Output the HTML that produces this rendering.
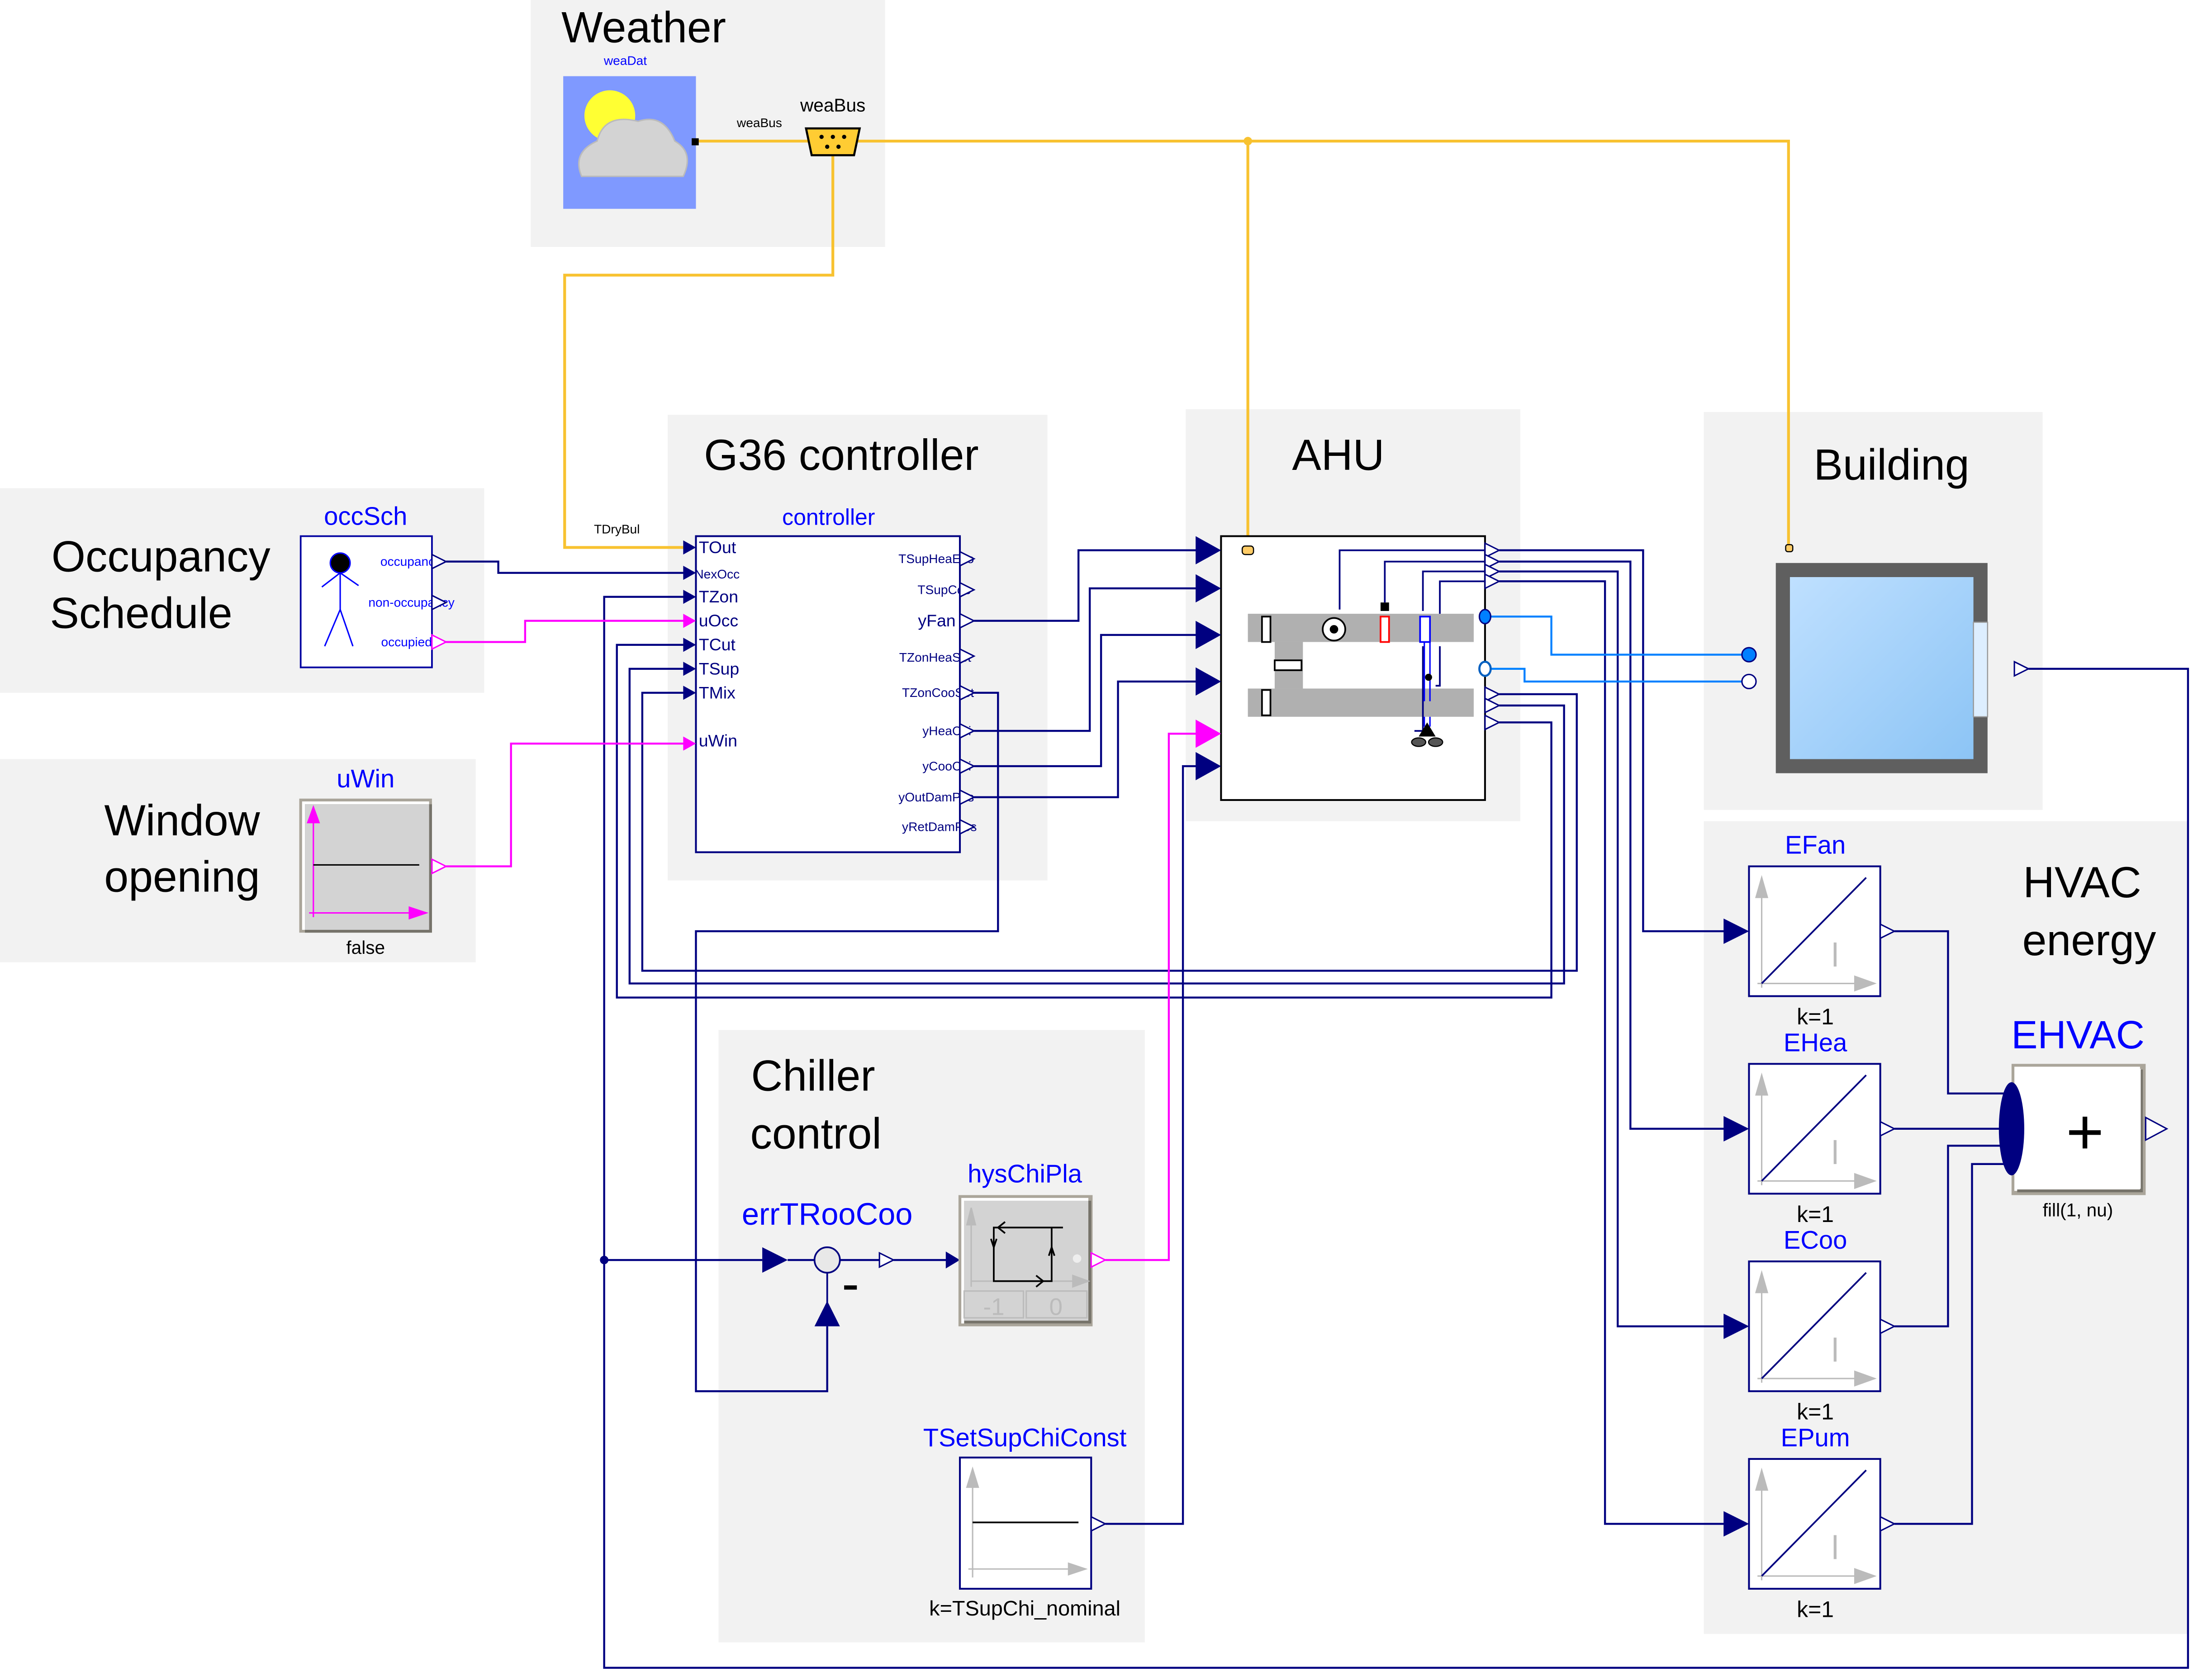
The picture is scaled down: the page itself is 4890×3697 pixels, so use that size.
<!DOCTYPE html>
<html><head><meta charset="utf-8"><style>
html,body{margin:0;padding:0;background:#fff;}
svg{display:block;}
text{font-family:"Liberation Sans",sans-serif;}
</style></head><body>
<svg width="4890" height="3697" viewBox="0 0 1567 1185" preserveAspectRatio="none" xmlns="http://www.w3.org/2000/svg">
<defs>
<linearGradient id="bg" x1="0" y1="0" x2="1" y2="1"><stop offset="0" stop-color="#bfe0ff"/><stop offset="1" stop-color="#8cc4f5"/></linearGradient>
</defs>
<!-- panels -->
<g fill="#f2f2f2">
<rect x="376" y="0" width="251" height="175"/>
<rect x="0" y="346" width="343" height="145"/>
<rect x="0" y="538" width="337" height="144"/>
<rect x="473" y="294" width="269" height="330"/>
<rect x="840" y="290" width="237" height="292"/>
<rect x="1207" y="292" width="240" height="282"/>
<rect x="1207" y="582" width="343" height="576"/>
<rect x="509" y="730" width="302" height="434"/>
</g>
<!-- titles -->
<g font-size="31" fill="#000">
<text x="456" y="30" text-anchor="middle">Weather</text>
<text x="596" y="333" text-anchor="middle">G36 controller</text>
<text x="948" y="333" text-anchor="middle">AHU</text>
<text x="1340" y="340" text-anchor="middle">Building</text>
<text x="114" y="405" text-anchor="middle">Occupancy</text>
<text x="100" y="445" text-anchor="middle">Schedule</text>
<text x="129" y="592" text-anchor="middle">Window</text>
<text x="129" y="632" text-anchor="middle">opening</text>
<text x="576" y="773" text-anchor="middle">Chiller</text>
<text x="578" y="814" text-anchor="middle">control</text>
<text x="1475" y="636" text-anchor="middle">HVAC</text>
<text x="1480" y="677" text-anchor="middle">energy</text>
</g>
<!-- yellow weather bus -->
<g fill="none" stroke="#f8c230" stroke-width="2">
<polyline points="493,100 1267,100 1267,388"/>
<polyline points="884,100 884,388"/>
<polyline points="590,105 590,195 400,195 400,388 490,388"/>
</g>
<circle cx="884" cy="100" r="3" fill="#f8c230"/>
<!-- weather icon -->
<rect x="399" y="54" width="94" height="94" fill="#7f99ff"/>
<circle cx="432" cy="82" r="18" fill="#ffff33"/>
<path d="M412,125 Q405,108 423,100 Q428,80 452,86 Q470,80 478,100 Q492,108 484,125 Z" fill="#d3d3d3" stroke="#bbb"/>
<rect x="490" y="98" width="5" height="5" fill="#000"/>
<text x="443" y="46" font-size="9" fill="#0000ff" text-anchor="middle">weaDat</text>
<text x="538" y="90" font-size="9" text-anchor="middle">weaBus</text>
<text x="590" y="79" font-size="13" text-anchor="middle">weaBus</text>
<path d="M571,91 L609,91 L605,110 L575,110 Z" fill="#ffcc33" stroke="#000" stroke-width="1.5"/>
<g fill="#000"><circle cx="582" cy="97" r="1.5"/><circle cx="590" cy="97" r="1.5"/><circle cx="598" cy="97" r="1.5"/><circle cx="586" cy="104" r="1.5"/><circle cx="594" cy="104" r="1.5"/></g>
<text x="437" y="378" font-size="9" text-anchor="middle">TDryBul</text>

<!-- navy connections -->
<g fill="none" stroke="#000080" stroke-width="1.4">
<polyline points="316,398 353,398 353,406 486,406"/>
<polyline points="1437,474 1550,474 1550,1182 428,1182 428,423 486,423"/>
<polyline points="428,893 540,893"/>
<polyline points="486,457 437,457 437,707 1099,707 1099,512 1062,512"/>
<polyline points="486,474 446,474 446,697 1108,697 1108,500 1062,500"/>
<polyline points="486,491 455,491 455,688 1117,688 1117,492 1062,492"/>
<polyline points="690,440 764,440 764,390 848,390"/>
<polyline points="690,518 772,518 772,417 848,417"/>
<polyline points="690,543 780,543 780,450 848,450"/>
<polyline points="690,565 792,565 792,483 848,483"/>
<polyline points="690,491 707,491 707,660 493,660 493,986 586,986 586,940"/>
<polyline points="783,1080 838,1080 838,543 848,543"/>
<polyline points="1062,390 1164,390 1164,660 1222,660"/>
<polyline points="1062,398 1155,398 1155,800 1222,800"/>
<polyline points="1062,405 1146,405 1146,940 1222,940"/>
<polyline points="1062,412 1137,412 1137,1080 1222,1080"/>
<polyline points="1342,660 1380,660 1380,775 1425,775"/>
<polyline points="1342,800 1425,800"/>
<polyline points="1342,940 1380,940 1380,812 1425,812"/>
<polyline points="1342,1080 1397,1080 1397,825 1425,825"/>
<polyline points="595,893 623,893"/>
<polyline points="633,893 672,893"/>
</g>
<circle cx="428" cy="893" r="3" fill="#000080"/>
<!-- magenta -->
<g fill="none" stroke="#ff00ff" stroke-width="1.4">
<polyline points="316,455 372,455 372,440 486,440"/>
<polyline points="316,614 362,614 362,527 486,527"/>
<polyline points="783,893 828,893 828,520 848,520"/>
</g>
<!-- fluid -->
<g fill="none" stroke="#0080ff" stroke-width="1.4">
<polyline points="1056,437 1099,437 1099,464 1234,464"/>
<polyline points="1056,474 1080,474 1080,483 1234,483"/>
</g>
<circle cx="1239" cy="464" r="5" fill="#0080ff" stroke="#000080"/>
<circle cx="1239" cy="483" r="5" fill="#fff" stroke="#000080"/>

<!-- occSch -->
<text x="259" y="372" font-size="18" fill="#0000ff" text-anchor="middle">occSch</text>
<rect x="213" y="380" width="93" height="93" fill="#fff" stroke="#0000a0" stroke-width="1.2"/>
<circle cx="241" cy="399" r="7" fill="#000" stroke="#0000ff"/>
<g stroke="#0000ff" fill="none"><line x1="241" y1="406" x2="241" y2="432"/><line x1="228" y1="416" x2="241" y2="406"/><line x1="241" y1="406" x2="254" y2="415"/><polyline points="230,458 241,432 250,458"/></g>
<g font-size="9" fill="#0000ff" text-anchor="end"><text x="308" y="401">occupanc</text><text x="322" y="430">non-occupancy</text><text x="306" y="458">occupied</text></g>
<g fill="#fff" stroke="#000080"><path d="M306,393 L316,398 L306,403 Z"/><path d="M306,422 L316,427 L306,432 Z"/></g>
<path d="M306,450 L316,455 L306,460 Z" fill="#fff" stroke="#ff00ff"/>

<!-- uWin -->
<text x="259" y="558" font-size="18" fill="#0000ff" text-anchor="middle">uWin</text>
<rect x="212" y="566" width="94" height="95" fill="#aaa59a"/>
<rect x="214" y="568" width="90" height="91" fill="#fff"/>
<rect x="216" y="570" width="90" height="91" fill="#76736a"/>
<rect x="216" y="570" width="88" height="89" fill="#d3d3d3"/>
<g stroke="#ff00ff" fill="#ff00ff"><line x1="222" y1="650" x2="222" y2="580"/><path d="M218,583 L222,572 L226,583Z"/><line x1="219" y1="647" x2="294" y2="647"/><path d="M290,643 L302,647 L290,651Z"/></g>
<line x1="222" y1="613" x2="297" y2="613" stroke="#000" stroke-width="1"/>
<path d="M306,609 L316,614 L306,619 Z" fill="#fff" stroke="#ff00ff"/>
<text x="259" y="676" font-size="13" text-anchor="middle">false</text>

<!-- controller -->
<text x="587" y="372" font-size="16" fill="#0000ff" text-anchor="middle">controller</text>
<rect x="493" y="380" width="187" height="224" fill="#fff" stroke="#000080" stroke-width="1.3"/>
<g fill="#000080"><path d="M484,383 L493,388 L484,393Z"/><path d="M484,401 L493,406 L484,411Z"/><path d="M484,418 L493,423 L484,428Z"/><path d="M484,452 L493,457 L484,462Z"/><path d="M484,469 L493,474 L484,479Z"/><path d="M484,486 L493,491 L484,496Z"/></g>
<g fill="#ff00ff"><path d="M484,435 L493,440 L484,445Z"/><path d="M484,522 L493,527 L484,532Z"/></g>
<g font-size="12" fill="#000080"><text x="495" y="392">TOut</text><text x="495" y="427">TZon</text><text x="495" y="444">uOcc</text><text x="495" y="461">TCut</text><text x="495" y="478">TSup</text><text x="495" y="495">TMix</text><text x="495" y="529">uWin</text><text x="492" y="410" font-size="9">NexOcc</text></g>
<g font-size="9" fill="#000080" text-anchor="end"><text x="690" y="399">TSupHeaEco</text><text x="688" y="421">TSupCoo</text><text x="688" y="469">TZonHeaSet</text><text x="690" y="494">TZonCooSet</text><text x="688" y="521">yHeaCoi</text><text x="688" y="546">yCooCoi</text><text x="690" y="568">yOutDamPos</text><text x="692" y="589">yRetDamPos</text><text x="677" y="444" font-size="12">yFan</text></g>
<g fill="#fff" stroke="#000080"><path d="M680,391 L690,396 L680,401Z"/><path d="M680,413 L690,418 L680,423Z"/><path d="M680,435 L690,440 L680,445Z"/><path d="M680,460 L690,465 L680,470Z"/><path d="M680,486 L690,491 L680,496Z"/><path d="M680,513 L690,518 L680,523Z"/><path d="M680,538 L690,543 L680,548Z"/><path d="M680,560 L690,565 L680,570Z"/><path d="M680,581 L690,586 L680,591Z"/></g>

<!-- AHU -->
<rect x="865" y="380" width="187" height="187" fill="#fff" stroke="#000" stroke-width="1.3"/>
<g fill="#000080"><path d="M847,380 L865,390 L847,400Z"/><path d="M847,407 L865,417 L847,427Z"/><path d="M847,440 L865,450 L847,460Z"/><path d="M847,473 L865,483 L847,493Z"/><path d="M847,533 L865,543 L847,553Z"/></g>
<path d="M847,510 L865,520 L847,530Z" fill="#ff00ff"/>
<rect x="880" y="387" width="8" height="6" rx="2" fill="#ffcc66" stroke="#000" stroke-width="0.8"/>
<g fill="#b0b0b0"><rect x="884" y="435" width="160" height="20"/><rect x="884" y="488" width="160" height="20"/><rect x="903" y="455" width="20" height="33"/></g>
<g fill="#fff" stroke="#000" stroke-width="1.2"><rect x="894" y="437" width="6" height="18"/><rect x="894" y="489" width="6" height="18"/><rect x="903" y="468" width="19" height="7"/></g>
<rect x="978" y="437" width="6" height="18" fill="#fff" stroke="#ff0000" stroke-width="1.2"/>
<rect x="1006" y="437" width="7" height="18" fill="#fff" stroke="#0000ff" stroke-width="1.2"/>
<circle cx="945" cy="446" r="8" fill="#fff" stroke="#000" stroke-width="1.2"/><circle cx="945" cy="446" r="3" fill="#000"/>
<rect x="978" y="427" width="6" height="6" fill="#000"/>
<g fill="none" stroke="#000080" stroke-width="1.2">
<polyline points="1052,390 949,390 949,432"/><polyline points="1052,398 981,398 981,427"/><polyline points="1052,405 1008,405 1008,433"/><polyline points="1052,412 1020,412 1020,435"/>
<polyline points="1008,458 1008,518 1002,518"/><polyline points="1020,458 1020,486 1017,486"/>
</g>
<g stroke="#0000ff"><line x1="1009" y1="455" x2="1009" y2="497"/><line x1="1013" y1="455" x2="1013" y2="497"/><line x1="1009" y1="508" x2="1009" y2="515"/><line x1="1013" y1="508" x2="1013" y2="515"/></g>
<circle cx="1012" cy="480" r="2.5" fill="#000"/>
<path d="M1005,522 L1011,512 L1017,522 Z" fill="#000"/>
<g fill="#555" stroke="#000" stroke-width="0.8"><ellipse cx="1005" cy="526" rx="5" ry="3"/><ellipse cx="1017" cy="526" rx="5" ry="3"/></g>
<g fill="#fff" stroke="#000080"><path d="M1052,385 L1062,390 L1052,395Z"/><path d="M1052,393 L1062,398 L1052,403Z"/><path d="M1052,400 L1062,405 L1052,410Z"/><path d="M1052,407 L1062,412 L1052,417Z"/><path d="M1052,487 L1062,492 L1052,497Z"/><path d="M1052,495 L1062,500 L1052,505Z"/><path d="M1052,507 L1062,512 L1052,517Z"/></g>
<ellipse cx="1052" cy="437" rx="4" ry="5" fill="#0080ff" stroke="#000080"/>
<ellipse cx="1052" cy="474" rx="4" ry="5" fill="#fff" stroke="#0060c0" stroke-width="1.5"/>

<!-- Building -->
<rect x="1265" y="386" width="5" height="5" rx="1.5" fill="#ffcc66" stroke="#000" stroke-width="0.8"/>
<rect x="1258" y="399" width="150" height="149" fill="#5f5f5f"/>
<rect x="1268" y="409" width="130" height="129" fill="url(#bg)"/>
<rect x="1398" y="441" width="10" height="67" fill="#ddeeff" stroke="#999" stroke-width="0.8"/>
<path d="M1427,469 L1437,474 L1427,479Z" fill="#fff" stroke="#000080"/>

<!-- gain blocks -->
<g id="gains">
<g font-size="18" fill="#0000ff" text-anchor="middle"><text x="1286" y="605">EFan</text><text x="1286" y="745">EHea</text><text x="1286" y="885">ECoo</text><text x="1286" y="1025">EPum</text></g>
<g font-size="16" fill="#000" text-anchor="middle"><text x="1286" y="726">k=1</text><text x="1286" y="866">k=1</text><text x="1286" y="1006">k=1</text><text x="1286" y="1146">k=1</text></g>
</g>
<g id="g1">
<rect x="1239" y="614" width="93" height="92" fill="#fff" stroke="#000080" stroke-width="1.3"/>
<g stroke="#bbb" fill="#bbb"><line x1="1248" y1="700" x2="1248" y2="625"/><path d="M1244,636 L1248,622 L1252,636Z"/><line x1="1245" y1="697" x2="1320" y2="697"/><path d="M1314,692 L1328,697 L1314,702Z"/><line x1="1300" y1="668" x2="1300" y2="685" stroke-width="2"/></g>
<line x1="1248" y1="697" x2="1322" y2="622" stroke="#000080" stroke-width="1.2"/>
<path d="M1221,651 L1239,660 L1221,669Z" fill="#000080"/>
<path d="M1332,655 L1342,660 L1332,665Z" fill="#fff" stroke="#000080"/>
</g>
<use href="#g1" y="140"/>
<use href="#g1" y="280"/>
<use href="#g1" y="420"/>

<!-- EHVAC -->
<text x="1472" y="743" font-size="28" fill="#0000ff" text-anchor="middle">EHVAC</text>
<rect x="1425" y="754" width="95" height="93" fill="#aaa59a"/>
<rect x="1427" y="756" width="89" height="88" fill="#fff"/>
<rect x="1429" y="758" width="89" height="87" fill="#76736a"/>
<rect x="1429" y="758" width="87" height="85" fill="#fff"/>
<rect x="1429" y="758" width="87" height="84" fill="#fff" stroke="#fff"/>
<text x="1477" y="818" font-size="46" text-anchor="middle" fill="#000">+</text>
<ellipse cx="1425" cy="800" rx="9" ry="33" fill="#000080"/>
<path d="M1520,792 L1535,800 L1520,808Z" fill="#fff" stroke="#000080"/>
<text x="1472" y="862" font-size="13" text-anchor="middle">fill(1, nu)</text>

<!-- chiller control -->
<text x="586" y="868" font-size="22" fill="#0000ff" text-anchor="middle">errTRooCoo</text>
<path d="M540,884 L558,893 L540,902Z" fill="#000080"/>
<line x1="558" y1="893" x2="577" y2="893" stroke="#000080" stroke-width="1.4"/>
<circle cx="586" cy="893" r="9" fill="#e8e8e8" stroke="#000080" stroke-width="1.2"/>
<line x1="586" y1="902" x2="586" y2="926" stroke="#000080" stroke-width="1.2"/>
<path d="M577,940 L586,922 L595,940Z" fill="#000080"/>
<rect x="598" y="911" width="9" height="3" fill="#000"/>
<path d="M623,888 L633,893 L623,898Z" fill="#fff" stroke="#000080"/>
<path d="M670,887 L680,893 L670,899Z" fill="#000080"/>
<text x="726" y="838" font-size="18" fill="#0000ff" text-anchor="middle">hysChiPla</text>
<rect x="679" y="847" width="95" height="93" fill="#aaa59a"/>
<rect x="681" y="849" width="90" height="89" fill="#fff"/>
<rect x="683" y="851" width="90" height="87" fill="#76736a"/>
<rect x="683" y="851" width="88" height="85" fill="#d3d3d3"/>
<g stroke="#bbb" fill="#bbb"><line x1="688" y1="912" x2="688" y2="862"/><path d="M685,868 L688,856 L691,868Z"/><line x1="688" y1="908" x2="765" y2="908"/><path d="M760,904 L771,908 L760,912Z"/><rect x="683" y="915" width="42" height="19" fill="none"/><rect x="727" y="915" width="43" height="19" fill="none"/></g>
<g font-size="17" fill="#bbb" text-anchor="middle"><text x="704" y="932">-1</text><text x="748" y="932">0</text></g>
<g stroke="#000" fill="none" stroke-width="1.2"><polyline points="753,870 704,870 704,908 745,908 745,870"/><polyline points="712,866 707,870 712,874"/><polyline points="734,904 739,908 734,912"/><polyline points="702,878 704,884 706,878"/><polyline points="743,890 745,884 747,890"/></g>
<circle cx="763" cy="892" r="3" fill="#eee"/>
<path d="M773,888 L783,893 L773,898Z" fill="#fff" stroke="#ff00ff"/>
<text x="726" y="1025" font-size="18" fill="#0000ff" text-anchor="middle">TSetSupChiConst</text>
<rect x="680" y="1033" width="93" height="93" fill="#fff" stroke="#000080" stroke-width="1.3"/>
<g stroke="#bbb" fill="#bbb"><line x1="689" y1="1118" x2="689" y2="1045"/><path d="M685,1054 L689,1041 L693,1054Z"/><line x1="686" y1="1112" x2="762" y2="1112"/><path d="M757,1108 L769,1112 L757,1116Z"/></g>
<line x1="689" y1="1079" x2="764" y2="1079" stroke="#000" stroke-width="1.2"/>
<path d="M773,1075 L783,1080 L773,1085Z" fill="#fff" stroke="#000080"/>
<text x="726" y="1145" font-size="15" text-anchor="middle">k=TSupChi_nominal</text>
</svg>
</body></html>
